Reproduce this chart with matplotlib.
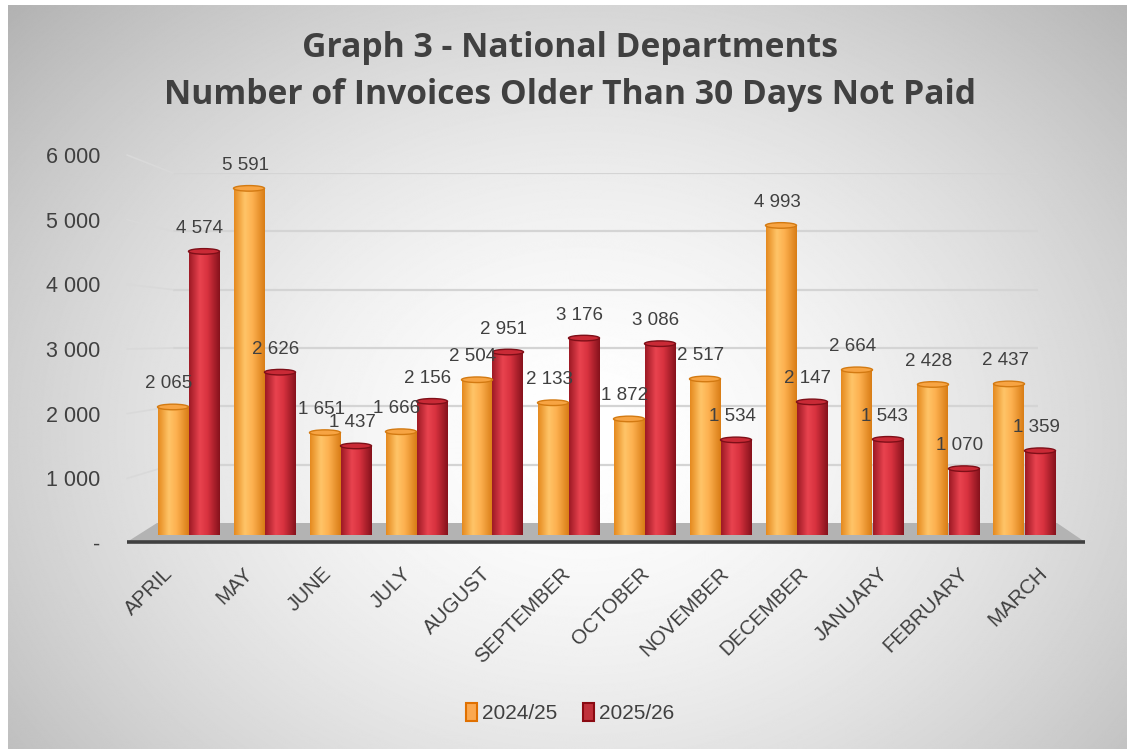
import numpy as np
import matplotlib
matplotlib.use("Agg")
import matplotlib.pyplot as plt
from matplotlib.patches import Polygon, Ellipse, Patch, ConnectionPatch
from matplotlib.colors import LinearSegmentedColormap
from matplotlib.ticker import FuncFormatter, MultipleLocator

# ---------------- data ----------------
months = ["APRIL", "MAY", "JUNE", "JULY", "AUGUST", "SEPTEMBER", "OCTOBER",
          "NOVEMBER", "DECEMBER", "JANUARY", "FEBRUARY", "MARCH"]
fy_2024_25 = [2065, 5591, 1651, 1666, 2504, 2133, 1872, 2517, 4993, 2664, 2428, 2437]
fy_2025_26 = [4574, 2626, 1437, 2156, 2951, 3176, 3086, 1534, 2147, 1543, 1070, 1359]
series_names = ["2024/25", "2025/26"]
title_lines = ["Graph 3 - National Departments",
               "Number of Invoices Older Than 30 Days Not Paid"]

# ---------------- layout ----------------
W, H = 1127, 749
fig = plt.figure(figsize=(W / 100, H / 100), dpi=100)
fig.patch.set_facecolor("white")

def rect(x0, y0, x1, y1):
    """pixel box (top-left origin) -> figure fraction rect"""
    return [x0 / W, 1 - y1 / H, (x1 - x0) / W, (y1 - y0) / H]

TXT = "#404040"
FONT = ["Liberation Sans", "DejaVu Sans"]

# background radial gradient
bg = fig.add_axes(rect(8, 5, W, H), zorder=-5)
bg.set_axis_off()
yy, xx = np.mgrid[0:H, 0:W]
r = np.sqrt(((xx - 580) / 700.0) ** 2 + ((yy - 430) / 560.0) ** 2)
val = 1.0 - 0.25 * np.clip(r, 0, 1.2) ** 1.6
bg.imshow(val, cmap="gray", vmin=0, vmax=1, aspect="auto", interpolation="bilinear")

# axes geometry (pixels)
FRONT_L, FRONT_R = 127, 1085
BACK_L, BACK_R = 157, 1057
WALL_L, WALL_R = 173, 1038

# back wall with gridlines
axC = fig.add_axes(rect(WALL_L, 173, WALL_R, 523), zorder=-3)
axC.set_ylim(0, 6000)
axC.set_xlim(0, 1)
axC.patch.set_alpha(0)
for s in axC.spines.values():
    s.set_visible(False)
axC.set_xticks([])
axC.set_yticks([])
for v in range(1000, 6001, 1000):
    axC.axhline(v, color="#d4d4d4", lw=1.6)

# label axis (value labels + category labels on front edge)
axA = fig.add_axes(rect(FRONT_L, 155, FRONT_R, 543), zorder=2)
axA.patch.set_alpha(0)
axA.set_ylim(0, 6000)
axA.yaxis.set_major_locator(MultipleLocator(1000))
axA.yaxis.set_major_formatter(FuncFormatter(
    lambda v, p: "-" if v == 0 else f"{int(v):,}".replace(",", " ")))
for s in axA.spines.values():
    s.set_visible(False)
axA.tick_params(axis="y", length=0, pad=19, labelsize=15.5, labelcolor=TXT)
for t in axA.get_yticklabels():
    t.set_fontfamily(FONT)
idx = np.arange(len(months))
LBL0, LBLSTEP = 163.0, 79.5
axA.set_xlim((FRONT_L - LBL0) / LBLSTEP, (FRONT_R - LBL0) / LBLSTEP)
axA.set_xticks(idx)
axA.set_xticklabels(months, rotation=45, ha="right", va="top",
                    rotation_mode="anchor", fontsize=14.8, color=TXT, family=FONT)
axA.tick_params(axis="x", length=0, pad=15)

# side-wall gridlines
for v in range(1000, 6001, 1000):
    cp = ConnectionPatch(xyA=(0, v), coordsA=axA.get_yaxis_transform(),
                         xyB=(0, v), coordsB=axC.get_yaxis_transform(),
                         color="#d9d9d9", lw=1.2, zorder=-2)
    fig.add_artist(cp)

# bar axis
axB = fig.add_axes(rect(FRONT_L, 163, FRONT_R, 535), zorder=0)
axB.patch.set_alpha(0)
for s in axB.spines.values():
    s.set_visible(False)
axB.set_xticks([])
axB.set_yticks([])
GROUP0, STEP = 188.5, 76.0
xlim = ((FRONT_L - GROUP0) / STEP, (FRONT_R - GROUP0) / STEP)
ylim = (0, 6000)

# floor
floor = Polygon([[FRONT_L / W, 1 - 542 / H], [BACK_L / W, 1 - 523 / H],
                 [BACK_R / W, 1 - 523 / H], [FRONT_R / W, 1 - 542 / H]],
                closed=True, transform=fig.transFigure, facecolor="#b3b3b3",
                edgecolor="none", zorder=0.5, clip_on=False)
axB.add_artist(floor)
axB.plot([FRONT_L / W, FRONT_R / W], [1 - 542 / H, 1 - 542 / H],
         transform=fig.transFigure, color="#404040", lw=2.6,
         solid_capstyle="butt", clip_on=False, zorder=0.6)

bw = 31 / STEP
orange_cmap = LinearSegmentedColormap.from_list(
    "o", [(0, "#e58a1f"), (0.35, "#ffc468"), (0.6, "#fdb150"), (1, "#d97d16")])
red_cmap = LinearSegmentedColormap.from_list(
    "r", [(0, "#9e1a25"), (0.35, "#e9434f"), (0.6, "#d8323f"), (1, "#86121c")])
cap_cols = [("#f7a443", "#d37a12"), ("#c92a36", "#7e0f18")]
grad = np.linspace(0, 1, 64).reshape(1, -1)

for k, (vals, cmap) in enumerate([(fy_2024_25, orange_cmap), (fy_2025_26, red_cmap)]):
    off = -bw / 2 if k == 0 else bw / 2
    bars = axB.bar(idx + off, vals, width=bw, color="none", edgecolor="none", zorder=2)
    for b, v in zip(bars, vals):
        x0, w, h = b.get_x(), b.get_width(), b.get_height()
        im = axB.imshow(grad, cmap=cmap, extent=(x0, x0 + w, 0, h),
                        aspect="auto", zorder=2, interpolation="bilinear")
        im.set_clip_path(b)
        cap = Ellipse((x0 + w / 2, h), width=w, height=90,
                      facecolor=cap_cols[k][0], edgecolor=cap_cols[k][1],
                      lw=1.0, zorder=3)
        axB.add_patch(cap)
        axB.annotate(f"{v:,}".replace(",", " "), xy=(x0 + w / 2, h),
                     xytext=(-4, 23), textcoords="offset pixels",
                     ha="center", va="center", fontsize=13.5, color=TXT,
                     family=FONT, zorder=5)
axB.set_xlim(*xlim)
axB.set_ylim(*ylim)

# title
fig.text(570 / W, 1 - 48 / H, title_lines[0], ha="center", va="center",
         fontsize=24.2, fontweight="bold", color=TXT, family="Open Sans")
fig.text(570 / W, 1 - 95 / H, title_lines[1], ha="center", va="center",
         fontsize=24.2, fontweight="bold", color=TXT, family="Open Sans")

# legend
handles = [Patch(facecolor="#fba84f", edgecolor="#e07000", lw=1.5),
           Patch(facecolor="#c0303a", edgecolor="#8b0a12", lw=1.5)]
leg = fig.legend(handles, series_names, loc="center",
                 bbox_to_anchor=(570 / W, 1 - 713 / H), ncol=2, frameon=False,
                 prop={"family": FONT, "size": 15}, handlelength=0.55,
                 handleheight=1.0, handletextpad=0.25, columnspacing=1.2)
for t in leg.get_texts():
    t.set_color(TXT)

fig.savefig("out.png", dpi=100)
